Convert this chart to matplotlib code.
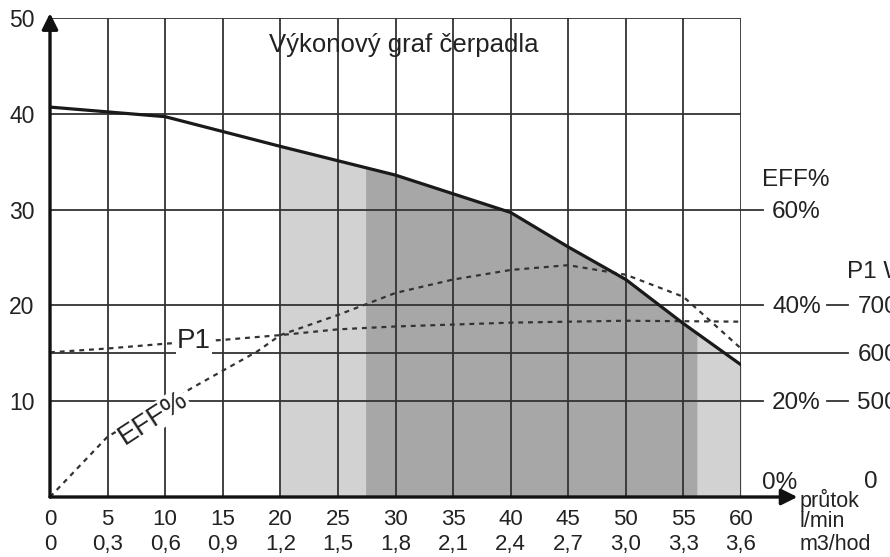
import numpy as np
import matplotlib.pyplot as plt

plt.rcParams['font.family'] = ['Liberation Sans', 'DejaVu Sans']

# Data
flow_lmin = [0, 5, 10, 15, 20, 25, 30, 35, 40, 45, 50, 55, 60]
flow_m3h = ['0', '0,3', '0,6', '0,9', '1,2', '1,5', '1,8', '2,1', '2,4', '2,7', '3,0', '3,3', '3,6']

head_x = [0, 10, 20, 30, 40, 45, 50, 55, 60]
head_m = [40.7, 39.7, 36.6, 33.6, 29.7, 26.1, 22.7, 18.1, 13.8]

eff_x = [0, 5, 12.5, 18, 20, 25, 30, 35, 40, 45, 50, 55, 60]
eff_pct = [0, 12.6, 23.0, 30.4, 33.8, 38.0, 42.6, 45.4, 47.4, 48.4, 46.4, 41.8, 31.0]

p1_x = [0, 5, 10, 15, 20, 25, 30, 40, 50, 60]
p1_w = [602, 610, 620, 628, 638, 650, 656, 664, 668, 666]

# operating bands (l/min)
band_edges = [20, 27.4, 56.2, 60]
band_colors = ['#d2d2d2', '#a7a7a7', '#d2d2d2']

y_ticks = [10, 20, 30, 40, 50]
h_grid = [10, 15, 20, 30, 40, 50]

fig = plt.figure(figsize=(8.9, 5.57), dpi=100)
ax = fig.add_axes([50/890, 60/557, 691/890, 479/557])
ax.set_xlim(0, 60)
ax.set_ylim(0, 50)
for s in ax.spines.values():
    s.set_visible(False)

# shaded areas under the head curve
for (a, b), c in zip(zip(band_edges[:-1], band_edges[1:]), band_colors):
    xs = [a] + [x for x in head_x if a < x < b] + [b]
    ax.fill_between(xs, 0, np.interp(xs, head_x, head_m), color=c, lw=0, zorder=1)

# grid
gcol = '#333333'
for x in flow_lmin[1:]:
    ax.plot([x, x], [0, 50], color=gcol, lw=1.3, zorder=2)
for y in h_grid:
    ax.plot([0, 60], [y, y], color=gcol, lw=1.3, zorder=2)
# extensions to the right-hand scales
for y in [10, 20, 30]:
    ax.plot([60, 61.9], [y, y], color=gcol, lw=1.3, zorder=2, clip_on=False)
ax.plot([60, 69.3], [15, 15], color=gcol, lw=1.3, zorder=2, clip_on=False)
for y in [10, 20]:
    ax.plot([67.5, 69.3], [y, y], color=gcol, lw=1.3, zorder=2, clip_on=False)

# curves
ax.plot(head_x, head_m, color='#1a1a1a', lw=2.3, zorder=4)
ax.plot(eff_x, [e / 2 for e in eff_pct], color='#333333', lw=1.6,
        ls=(0, (2.2, 2.2)), zorder=3)  # 60 % sits on the 30 m line
ax.plot(p1_x, [15 + (w - 600) / 20 for w in p1_w], color='#333333', lw=1.6,
        ls=(0, (2.2, 2.2)), zorder=3)  # 600 W on 15 m, 700 W on 20 m

# axes with arrows
ax.annotate('', xy=(0, 50.5), xytext=(0, 0),
            arrowprops=dict(arrowstyle='-|>', lw=2.4, color='#111111', mutation_scale=24,
                            shrinkA=0, shrinkB=0), annotation_clip=False, zorder=5)
ax.annotate('', xy=(64.9, 0), xytext=(0, 0),
            arrowprops=dict(arrowstyle='-|>', lw=2.4, color='#111111', mutation_scale=24,
                            shrinkA=0, shrinkB=0), annotation_clip=False, zorder=5)

# ticks
ax.set_xticks([])
ax.set_yticks(y_ticks, labels=[str(v) for v in y_ticks])
ax.tick_params(length=0, labelsize=16.5, colors='#222222', pad=11)
tk = dict(fontsize=16, color='#222222', ha='center', va='center', clip_on=False)
for x, m3 in zip(flow_lmin, flow_m3h):
    ax.text(x, -2.4, str(x), **tk)
    ax.text(x, -5.0, m3, **tk)

# labels
ax.text(30.7, 47.2, 'Výkonový graf čerpadla', ha='center', va='center', fontsize=18.5,
        color='#222222', zorder=6)
ax.text(12.5, 16.3, 'P1', ha='center', va='center', fontsize=20, color='#222222', zorder=6,
        bbox=dict(boxstyle='square,pad=0.05', fc='white', ec='none'))
ax.text(9.0, 8.2, 'EFF%', ha='center', va='center', fontsize=20, color='#222222', rotation=33,
        zorder=6, bbox=dict(boxstyle='square,pad=0.02', fc='white', ec='none'))

rk = dict(fontsize=17.5, color='#222222', va='center', ha='left', clip_on=False)
ax.text(61.8, 33.1, 'EFF%', **rk)
ax.text(62.7, 29.7, '60%', **rk)
ax.text(62.7, 19.8, '40%', **rk)
ax.text(62.7, 9.8, '20%', **rk)
ax.text(61.8, 1.5, '0%', **rk)
ax.text(69.2, 23.5, 'P1 W', **rk)
ax.text(70.1, 19.8, '700', **rk)
ax.text(70.1, 14.8, '600', **rk)
ax.text(70.1, 9.8, '500', **rk)
ax.text(70.7, 1.6, '0', **rk)
uk = dict(fontsize=15.5, color='#222222', va='center', ha='left', clip_on=False)
ax.text(65.1, -0.4, 'průtok', **uk)
ax.text(65.1, -2.6, 'l/min', **uk)
ax.text(65.1, -5.0, 'm3/hod', **uk)

fig.savefig('out.png', dpi=100)
